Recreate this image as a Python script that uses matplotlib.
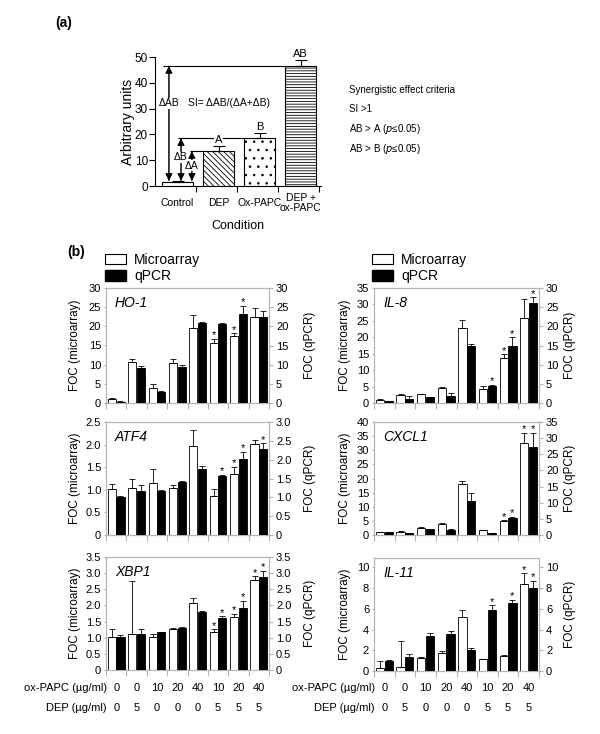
import matplotlib
matplotlib.use('Agg')
import matplotlib.pyplot as plt
import numpy as np
from matplotlib.patches import Patch
from matplotlib.transforms import blended_transform_factory

plt.rcParams['font.family'] = ['Liberation Sans', 'DejaVu Sans']
plt.rcParams['hatch.linewidth'] = 0.6

# ---- datos panel (a)
condiciones = ['Control', 'DEP', 'Ox-PAPC', 'DEP +\nox-PAPC']
a_valores = [1.5, 13.5, 18.5, 46.5]
a_error = [0.5, 2.0, 2.0, 2.5]
a_etiquetas = ['', 'A', 'B', 'AB']

# ---- datos panel (b)
ox_papc = ['0', '0', '10', '20', '40', '10', '20', '40']
dep = ['0', '5', '0', '0', '0', '5', '5', '5']

ho1_micro = [1.05, 10.8, 4.0, 10.5, 19.5, 15.6, 17.4, 22.4]
ho1_micro_err = [0.25, 0.8, 0.9, 1.1, 3.5, 1.1, 0.8, 2.3]
ho1_qpcr = [0.35, 9.1, 2.9, 9.3, 20.8, 20.6, 23.1, 22.4]
ho1_qpcr_err = [0.05, 0.6, 0.2, 0.6, 0.4, 0.15, 2.2, 1.7]
ho1_micro_sig = [5, 6]
ho1_qpcr_sig = [6]

il8_micro = [1.0, 2.35, 2.65, 4.7, 22.8, 4.4, 13.8, 26.0]
il8_micro_err = [0.2, 0.25, 0.2, 0.3, 2.5, 0.9, 1.0, 5.6]
il8_qpcr = [0.45, 1.1, 1.6, 1.85, 14.9, 4.5, 14.9, 26.1]
il8_qpcr_err = [0.15, 0.6, 0.05, 0.65, 0.4, 0.2, 2.2, 1.5]
il8_micro_sig = [6]
il8_qpcr_sig = [5, 6, 7]

atf4_micro = [1.01, 1.05, 1.14, 1.05, 1.96, 0.86, 1.35, 2.01]
atf4_micro_err = [0.11, 0.2, 0.32, 0.05, 0.37, 0.15, 0.16, 0.10]
atf4_qpcr = [1.01, 1.18, 1.17, 1.41, 1.76, 1.56, 2.01, 2.27]
atf4_qpcr_err = [0.02, 0.14, 0.03, 0.02, 0.08, 0.03, 0.2, 0.16]
atf4_micro_sig = [6]
atf4_qpcr_sig = [5, 6, 7]

cxcl1_micro = [0.95, 1.05, 2.5, 3.8, 18.0, 1.75, 4.9, 32.6]
cxcl1_micro_err = [0.1, 0.25, 0.3, 0.5, 1.1, 0.1, 0.25, 3.6]
cxcl1_qpcr = [0.9, 0.6, 1.85, 1.65, 10.5, 0.6, 5.35, 27.4]
cxcl1_qpcr_err = [0.05, 0.05, 0.1, 0.3, 2.6, 0.05, 0.3, 4.3]
cxcl1_micro_sig = [6, 7]
cxcl1_qpcr_sig = [6, 7]

xbp1_micro = [1.01, 1.10, 1.02, 1.26, 2.07, 1.19, 1.65, 2.79]
xbp1_micro_err = [0.26, 1.66, 0.10, 0.03, 0.15, 0.07, 0.09, 0.11]
xbp1_qpcr = [1.01, 1.11, 1.17, 1.31, 1.79, 1.62, 1.93, 2.87]
xbp1_qpcr_err = [0.06, 0.16, 0.02, 0.03, 0.03, 0.04, 0.22, 0.21]
xbp1_micro_sig = [5, 6, 7]
xbp1_qpcr_sig = [5, 6, 7]

il11_micro = [0.26, 0.42, 1.22, 1.7, 5.24, 1.13, 1.45, 8.36]
il11_micro_err = [0.74, 2.48, 0.1, 0.23, 0.64, 0.06, 0.06, 1.06]
il11_qpcr = [1.0, 1.38, 3.34, 3.54, 2.03, 5.88, 6.59, 8.0]
il11_qpcr_err = [0.1, 0.26, 0.29, 0.32, 0.16, 0.45, 0.26, 0.68]
il11_micro_sig = [7]
il11_qpcr_sig = [5, 6, 7]

W, H = 600, 734
fig = plt.figure(figsize=(W / 100, H / 100), dpi=100)
GRIS = '#b4b4b4'


def ejes(l, r, t, b):
    # ejes a partir de pixeles (izq, der, arriba, abajo)
    return fig.add_axes([l / W, 1 - b / H, (r - l) / W, (b - t) / H])


# =============== PANEL (a) ===============
fig.text(55 / W, 1 - 23 / H, '(a)', fontsize=10, fontweight='bold', va='center')
ax = ejes(155, 321, 57, 186)
xa = np.arange(4)
tramas = ['', '\\\\\\\\\\\\', '..', '------']
for i in range(4):
    ax.bar(xa[i], a_valores[i], 0.74, color='white', edgecolor='black',
           hatch=tramas[i], lw=0.8, zorder=3)
ax.errorbar(xa, a_valores, yerr=[np.zeros(4), a_error], fmt='none', ecolor='black',
            capsize=4, elinewidth=0.8, capthick=0.8, zorder=4)
# lineas horizontales de referencia
ax.hlines(a_valores[3], -0.35, xa[3] - 0.37, color='black', lw=0.8, zorder=2)
ax.hlines(a_valores[2], 0.0, xa[2] - 0.37, color='black', lw=0.8, zorder=2)
ax.hlines(a_valores[1], 0.3, xa[1] - 0.37, color='black', lw=0.8, zorder=2)
for i in range(1, 4):
    ax.text(xa[i], a_valores[i] + a_error[i] + 0.4, a_etiquetas[i], ha='center', va='bottom',
            fontsize=8, clip_on=False, zorder=5,
            bbox=dict(fc='white', ec='none', pad=0.3))
# flechas delta
flechas = [(-0.21, a_valores[3], 'ΔAB', 32), (0.085, a_valores[2], 'ΔB', 11.2),
           (0.35, a_valores[1], 'ΔA', 7.8)]
for xf, tope, txt, yt in flechas:
    for y0, y1 in [(2.0, tope), (tope, 2.0)]:
        ax.annotate('', xy=(xf, y1), xytext=(xf, y0),
                    arrowprops=dict(arrowstyle='-|>', color='black', lw=0.7,
                                    mutation_scale=11, shrinkA=0, shrinkB=0))
    ax.text(xf, yt, txt, ha='center', va='center', fontsize=7.5, zorder=6,
            bbox=dict(fc='white', ec='none', pad=0.4))
ax.text(1.25, 32, 'SI= ΔAB/(ΔA+ΔB)', ha='center', va='center', fontsize=7.5)

ax.set_xlim(-0.55, 3.5)
ax.set_ylim(0, 50)
ax.set_yticks(range(0, 51, 10))
ax.set_xticks(xa)
ax.set_xticklabels(condiciones, fontsize=7.5, linespacing=1.0)
for lbl in ax.get_xticklabels():
    lbl.set_va('center')
ax.set_xticks([0.45, 1.45, 2.45, 3.45], minor=True)
ax.tick_params(axis='x', which='major', length=0, pad=12)
ax.tick_params(axis='x', which='minor', length=4, width=0.8)
ax.tick_params(axis='y', labelsize=8.5, length=4, width=0.8, pad=1)
ax.spines['top'].set_visible(False)
ax.spines['right'].set_visible(False)
for s in ['left', 'bottom']:
    ax.spines[s].set_linewidth(0.8)
ax.set_ylabel('Arbitrary units', fontsize=10)
ax.yaxis.set_label_coords(-0.165, 0.5)
ax.yaxis.label.set_va('center')
ax.set_xlabel('Condition', fontsize=9)
ax.xaxis.set_label_coords(0.5, -0.31)
ax.xaxis.label.set_va('center')

criterios = ['Synergistic effect criteria', 'SI >1',
             'AB > A ($\\it{p}$≤0.05)', 'AB > B ($\\it{p}$≤0.05)']
for txt, yp in zip(criterios, [90, 109, 129, 149]):
    fig.text(349 / W, 1 - yp / H, txt, fontsize=7, va='center')

# =============== PANEL (b) ===============
fig.text(67 / W, 1 - 252 / H, '(b)', fontsize=10, fontweight='bold', va='center')
manijas = [Patch(fc='white', ec='black', lw=0.8), Patch(fc='black', ec='black')]
for xl in [105, 372]:
    fig.legend(manijas, ['Microarray', 'qPCR'], loc='upper left',
               bbox_to_anchor=(xl / W, 1 - 253 / H), bbox_transform=fig.transFigure,
               frameon=False, fontsize=10, handlelength=1.5, handleheight=0.8,
               labelspacing=0.15, borderpad=0, borderaxespad=0, handletextpad=0.6)


def etiq(v, dec):
    return '0' if v == 0 else f'{v:.{dec}f}'


def panel(pos, gen, micro, micro_err, micro_sig, qpcr, qpcr_err, qpcr_sig,
          izq, der, dec, xlab, dosis=False):
    l, r, t, b = pos
    ax = ejes(l, r, t, b)
    ax2 = ax.twinx()
    x = np.arange(8)
    ax.bar(x - 0.21, micro, 0.4, color='white', edgecolor='black', lw=0.6, zorder=3)
    ax.errorbar(x - 0.21, micro, yerr=[np.zeros(8), micro_err], fmt='none', ecolor='black',
                capsize=2, elinewidth=0.6, capthick=0.6, zorder=4)
    ax2.bar(x + 0.21, qpcr, 0.4, color='black', edgecolor='black', lw=0.6, zorder=3)
    ax2.errorbar(x + 0.21, qpcr, yerr=[np.zeros(8), qpcr_err], fmt='none', ecolor='black',
                 capsize=2, elinewidth=0.6, capthick=0.6, zorder=4)
    for i in micro_sig:
        ax.annotate('*', (x[i] - 0.21, micro[i] + micro_err[i]), xytext=(0, -1),
                    textcoords='offset points', ha='center', va='bottom', fontsize=8)
    for i in qpcr_sig:
        ax2.annotate('*', (x[i] + 0.21, qpcr[i] + qpcr_err[i]), xytext=(0, -1),
                     textcoords='offset points', ha='center', va='bottom', fontsize=8)

    for a, (tope, tmax, paso) in [(ax, izq), (ax2, der)]:
        a.set_ylim(0, tope)
        ticks = np.arange(0, tmax + 1e-9, paso)
        a.set_yticks(ticks)
        a.set_yticklabels([etiq(v, dec) for v in ticks])
        for s in a.spines.values():
            s.set_color(GRIS)
            s.set_linewidth(0.8)
    ax.set_xlim(-0.5, 7.5)
    ax.set_xticks(np.arange(-0.5, 8, 1))
    ax.set_xticklabels([])
    ax.tick_params(axis='x', length=4, color=GRIS, width=0.8)
    ax.tick_params(axis='y', length=1.5, color=GRIS, labelsize=8, pad=2)
    ax2.tick_params(axis='y', length=3, color=GRIS, labelsize=8, pad=2)
    ax.text(0.055, 0.87, gen, transform=ax.transAxes, fontsize=10, style='italic',
            va='center', ha='left')

    ax.set_ylabel('FOC (microarray)', fontsize=8.5)
    ax.yaxis.set_label_coords((xlab[0] - l) / (r - l), 0.5)
    ax.yaxis.label.set_va('center')
    ax2.set_ylabel('FOC (qPCR)', fontsize=8.5)
    ax2.yaxis.set_label_coords((xlab[1] - l) / (r - l), 0.5)
    ax2.yaxis.label.set_va('center')

    if dosis:
        tr = blended_transform_factory(ax.transData, fig.transFigure)
        for fila, vals, yp in [('ox-PAPC (µg/ml)', ox_papc, 688), ('DEP (µg/ml)', dep, 708)]:
            fig.text((l + 1) / W, 1 - yp / H, fila, fontsize=8, ha='right', va='center')
            for i, v in enumerate(vals):
                ax.text(x[i], 1 - yp / H, v, transform=tr, fontsize=8, ha='center', va='center')


col_izq = (106, 269)
col_der = (374, 539)
lab_izq = (75, 310)
lab_der = (345, 570)

panel((*col_izq, 288, 403), 'HO-1', ho1_micro, ho1_micro_err, ho1_micro_sig,
      ho1_qpcr, ho1_qpcr_err, ho1_qpcr_sig, (30, 30, 5), (30, 30, 5), 0, lab_izq)
panel((*col_der, 288, 403), 'IL-8', il8_micro, il8_micro_err, il8_micro_sig,
      il8_qpcr, il8_qpcr_err, il8_qpcr_sig, (35, 35, 5), (30, 30, 5), 0, lab_der)
panel((*col_izq, 422, 535), 'ATF4', atf4_micro, atf4_micro_err, atf4_micro_sig,
      atf4_qpcr, atf4_qpcr_err, atf4_qpcr_sig, (2.5, 2.5, 0.5), (3.0, 3.0, 0.5), 1, lab_izq)
panel((*col_der, 422, 535), 'CXCL1', cxcl1_micro, cxcl1_micro_err, cxcl1_micro_sig,
      cxcl1_qpcr, cxcl1_qpcr_err, cxcl1_qpcr_sig, (40, 40, 5), (35, 35, 5), 0, lab_der)
panel((*col_izq, 557, 670), 'XBP1', xbp1_micro, xbp1_micro_err, xbp1_micro_sig,
      xbp1_qpcr, xbp1_qpcr_err, xbp1_qpcr_sig, (3.5, 3.5, 0.5), (3.5, 3.5, 0.5), 1,
      lab_izq, dosis=True)
panel((*col_der, 558, 671), 'IL-11', il11_micro, il11_micro_err, il11_micro_sig,
      il11_qpcr, il11_qpcr_err, il11_qpcr_sig, (10.9, 10, 2), (10.9, 10, 2), 0,
      lab_der, dosis=True)

fig.savefig('out.png', dpi=100)
